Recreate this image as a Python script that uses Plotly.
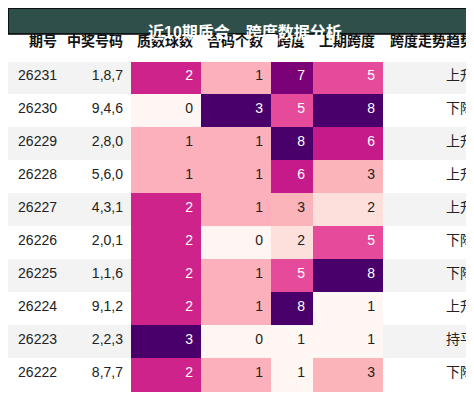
import plotly.graph_objects as go

issues = ["26231", "26230", "26229", "26228", "26227", "26226", "26225", "26224", "26223", "26222"]
numbers = ["1,8,7", "9,4,6", "2,8,0", "5,6,0", "4,3,1", "2,0,1", "1,1,6", "9,1,2", "2,2,3", "8,7,7"]
primes = [2, 0, 1, 1, 2, 2, 2, 2, 3, 2]
composites = [1, 3, 1, 1, 1, 0, 1, 1, 0, 1]
spans = [7, 5, 8, 6, 3, 2, 5, 8, 1, 1]
prev_spans = [5, 8, 6, 3, 2, 5, 8, 1, 1, 3]
trends = ["上升", "下降", "上升", "上升", "上升", "下降", "下降", "上升", "持平", "下降"]

headers = ["期号", "中奖号码", "质数球数", "合码个数", "跨度", "上期跨度", "跨度走势趋势"]

count_col = {0: "#fff5f2", 1: "#fbb0bb", 2: "#cf238c", 3: "#4a006a"}
span_col = {1: "#fff7f3", 2: "#fde0dc", 3: "#fbb4b9", 5: "#e64a9b",
            6: "#c51b8a", 7: "#7a0177", 8: "#49006a"}
dark = {"#cf238c", "#4a006a", "#e64a9b", "#c51b8a", "#7a0177", "#49006a"}

row_bg = ["#f3f3f3" if i % 2 == 0 else "#ffffff" for i in range(len(issues))]

fills = [row_bg, row_bg,
         [count_col[v] for v in primes],
         [count_col[v] for v in composites],
         [span_col[v] for v in spans],
         [span_col[v] for v in prev_spans],
         row_bg]
fonts = [["#222"] * 10, ["#222"] * 10] + \
        [["white" if c in dark else "#222" for c in col] for col in fills[2:6]] + [["#222"] * 10]

FONT = "Liberation Sans, Noto Sans CJK SC"

fig = go.Figure(go.Table(
    columnwidth=[57, 66, 70, 70, 42, 70, 99],
    header=dict(values=["<b>%s</b>" % h for h in headers], height=36, align="right",
                fill_color="white", line_color="white",
                font=dict(family=FONT, size=14, color="#111")),
    cells=dict(values=[issues, numbers, primes, composites, spans, prev_spans, trends],
               height=33, align="right", fill_color=fills, line_color=fills,
               font=dict(family=FONT, size=14, color=fonts)),
    domain=dict(x=[0, 1], y=[0, 1]),
))

H = 403
top = 17
ph = H - top
fig.add_shape(type="rect", xref="paper", yref="paper", x0=0, x1=1,
              y0=1 - 9 / ph, y1=1 + top / ph,
              fillcolor="#2f4f4a", line=dict(color="black", width=1.5))
fig.add_annotation(text="<b>近10期质合，跨度数据分析</b>", xref="paper", yref="paper",
                   x=0.5, y=1 + (top - 9) / ph / 2, showarrow=False,
                   font=dict(family=FONT, size=16, color="white"))

fig.update_layout(width=474, height=H, margin=dict(l=0, r=0, t=top, b=0),
                  paper_bgcolor="white")
fig.write_html("out.html")
